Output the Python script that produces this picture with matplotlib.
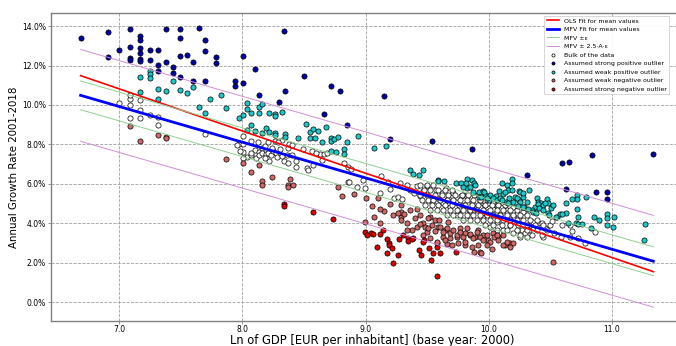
import matplotlib
matplotlib.use("Agg")
import matplotlib.pyplot as plt
import numpy as np

# ---------------- data (x = ln GDP, y = growth rate in %) ----------------
strong_pos = [(6.686, 13.40), (6.906, 13.71), (6.906, 12.44), (7.000, 12.78), (7.089, 13.87), (7.089, 12.94),
              (7.089, 12.40), (7.089, 12.28), (7.171, 13.52), (7.171, 13.30), (7.171, 12.89), (7.171, 12.62),
              (7.171, 12.35), (7.171, 12.22), (7.247, 12.78), (7.247, 12.30), (7.314, 12.78), (7.314, 12.02),
              (7.314, 11.73), (7.379, 13.87), (7.379, 12.20), (7.436, 11.93), (7.436, 11.62), (7.496, 13.84),
              (7.496, 13.40), (7.496, 12.50), (7.496, 11.42), (7.550, 12.54), (7.601, 12.20), (7.601, 11.22),
              (7.650, 13.91), (7.696, 13.28), (7.696, 12.73), (7.696, 11.23), (7.786, 12.42), (7.786, 12.15),
              (7.937, 11.23), (7.937, 10.98), (8.005, 12.49), (8.005, 11.10), (8.100, 11.83), (8.340, 13.74),
              (8.132, 10.52), (8.295, 10.14), (8.344, 10.71), (8.498, 11.46), (8.717, 10.98), (8.793, 10.73),
              (8.665, 9.56), (8.850, 8.97), (9.148, 10.47), (9.197, 8.27), (9.538, 8.19), (9.863, 7.75),
              (10.314, 6.43), (10.599, 7.06), (10.651, 7.09), (10.842, 7.46), (11.338, 7.51), (10.629, 5.72),
              (10.873, 5.58), (10.959, 5.60), (10.959, 5.21)]

weak_pos = [(7.171, 11.42), (7.247, 11.73), (7.247, 11.57), (7.247, 11.37), (7.314, 10.81), (7.314, 10.30),
            (7.379, 10.71), (7.436, 11.23), (7.496, 10.76), (7.550, 10.59), (7.601, 10.90), (7.650, 9.88),
            (7.696, 9.59), (7.739, 10.30), (7.824, 10.49), (7.864, 9.86), (7.970, 9.36), (8.005, 9.51),
            (8.040, 10.10), (8.040, 9.80), (8.040, 8.73), (7.171, 10.64), (8.070, 9.58), (8.132, 9.90),
            (8.132, 9.58), (8.159, 10.07), (8.216, 9.61), (8.267, 9.56), (8.267, 9.46), (8.319, 9.66),
            (8.070, 9.00), (8.100, 8.68), (8.159, 8.59), (8.189, 8.85), (8.218, 8.64), (8.267, 8.59),
            (8.262, 8.50), (8.344, 8.51), (8.344, 8.39), (8.454, 8.34), (8.514, 9.02), (8.552, 8.61),
            (8.552, 8.34), (8.576, 8.80), (8.614, 8.70), (8.592, 8.31), (8.647, 8.14), (8.682, 8.88),
            (8.717, 8.31), (8.717, 8.16), (8.747, 8.27), (8.779, 8.36), (8.717, 7.68), (8.763, 7.63),
            (8.823, 7.77), (8.823, 7.50), (8.852, 8.12), (8.937, 8.43), (9.071, 7.83), (9.169, 7.90),
            (9.359, 6.70), (9.388, 6.48), (9.437, 6.46), (9.587, 6.18), (9.638, 6.13), (9.735, 6.03),
            (9.773, 6.03), (9.827, 6.23), (9.863, 6.19), (9.881, 6.03), (9.822, 5.77), (9.876, 5.60),
            (9.924, 5.60), (9.952, 5.65), (9.973, 5.43), (9.920, 5.31), (10.006, 5.18), (10.109, 6.03),
            (10.147, 5.92), (10.193, 6.24), (10.160, 5.67), (10.188, 5.69), (10.247, 5.65), (10.326, 5.69),
            (10.084, 5.63), (10.114, 5.47), (10.214, 5.31), (10.249, 5.18), (10.282, 5.35), (10.290, 4.81),
            (10.141, 5.09), (10.058, 5.38), (9.892, 5.94), (9.849, 5.85), (9.941, 5.31), (9.465, 6.70),
            (9.591, 6.16), (9.790, 5.82), (9.818, 6.05), (9.960, 5.60), (10.011, 5.43), (9.984, 5.26),
            (10.038, 5.26), (10.066, 5.18), (10.092, 5.27), (10.106, 5.16), (10.133, 5.60), (10.188, 6.03),
            (10.168, 5.26), (10.200, 5.09), (10.228, 5.26), (10.255, 5.57), (10.282, 5.52), (10.255, 5.09),
            (10.310, 5.09), (10.391, 5.26), (10.404, 5.06), (10.423, 5.01), (10.377, 4.84), (10.350, 4.67),
            (10.444, 4.92), (10.472, 5.21), (10.485, 5.01), (10.505, 4.76), (10.526, 4.92), (10.558, 4.30),
            (10.580, 4.45), (10.629, 4.53), (10.629, 5.01), (10.485, 4.50), (10.363, 4.58), (10.160, 5.01),
            (10.241, 4.87), (10.277, 4.81), (10.318, 4.71), (10.399, 4.97), (10.412, 4.77), (10.439, 4.67),
            (10.385, 4.50), (10.458, 5.01), (10.491, 4.42), (10.548, 4.33), (10.716, 4.71), (10.726, 4.30),
            (10.645, 3.99), (10.710, 4.03), (10.729, 3.96), (10.759, 3.94), (10.832, 3.74), (10.859, 4.30),
            (10.959, 4.47), (10.959, 4.25), (10.964, 3.89), (11.008, 3.81), (11.021, 4.31), (11.273, 3.97),
            (11.260, 3.13), (10.716, 5.43), (10.716, 5.21), (10.680, 5.23), (10.791, 5.35), (10.899, 4.15),
            (10.594, 4.47)]

bulk = [(7.000, 10.12), (7.089, 10.32), (7.089, 10.00), (7.089, 9.32), (7.089, 10.50), (7.171, 10.24),
        (7.171, 9.75), (7.171, 9.32), (7.247, 9.49), (7.314, 9.41), (7.314, 9.00), (7.696, 8.53),
        (7.970, 8.01), (8.005, 8.41), (8.005, 8.01), (8.005, 7.63), (8.040, 7.38), (8.070, 8.19),
        (8.072, 7.46), (8.100, 7.73), (8.110, 7.31), (8.132, 7.60), (8.132, 7.46), (8.159, 7.83),
        (8.159, 7.58), (8.186, 7.92), (8.189, 7.50), (8.210, 7.58), (8.219, 7.17), (8.235, 7.48),
        (8.246, 7.66), (8.267, 8.19), (8.273, 7.55), (8.284, 7.38), (8.305, 7.75), (8.322, 8.22),
        (8.319, 7.41), (8.338, 7.17), (8.365, 7.46), (8.368, 7.07), (8.381, 8.02), (8.403, 7.98),
        (8.433, 7.14), (8.435, 6.84), (8.495, 7.75), (8.522, 6.79), (8.563, 7.68), (8.576, 6.97),
        (8.630, 7.50), (8.644, 7.21), (8.665, 7.50), (8.685, 7.55), (8.823, 7.04), (8.860, 6.87),
        (7.981, 7.65), (8.007, 7.29), (7.958, 7.97), (8.067, 7.55), (8.238, 7.80), (8.292, 8.14),
        (8.210, 8.14), (8.129, 8.14), (8.373, 7.80), (8.400, 7.46), (8.535, 6.70), (8.595, 7.55),
        (8.860, 6.08), (8.184, 7.29), (8.868, 6.11), (8.880, 6.75), (8.928, 5.85), (8.982, 6.19),
        (8.996, 5.77), (9.123, 6.40), (9.118, 5.52), (9.185, 6.11), (9.199, 5.72), (9.232, 5.26),
        (9.280, 6.06), (9.266, 5.35), (9.294, 5.21), (9.335, 5.94), (9.361, 5.69), (9.394, 5.55),
        (9.421, 5.89), (9.443, 5.38), (9.470, 5.65), (9.497, 5.89), (9.524, 5.35), (9.538, 5.01),
        (9.573, 5.69), (9.583, 5.26), (9.619, 5.55), (9.632, 5.01), (9.654, 5.80), (9.673, 5.26),
        (9.686, 4.81), (9.713, 5.52), (9.735, 5.09), (9.754, 4.67), (9.773, 5.38), (9.795, 5.45),
        (9.800, 4.92), (9.822, 5.31), (9.843, 4.67), (9.863, 5.04), (9.881, 5.43), (9.903, 4.81),
        (9.930, 5.13), (9.944, 4.50), (9.971, 4.92), (9.998, 5.05), (10.017, 4.63), (10.038, 5.09),
        (10.066, 4.84), (10.092, 4.42), (10.119, 5.01), (10.147, 4.67), (10.174, 4.25), (10.201, 4.81),
        (10.228, 4.50), (10.255, 4.16), (10.282, 4.55), (10.331, 3.65), (9.713, 5.01), (9.768, 4.76),
        (9.880, 4.69), (9.930, 4.84), (9.985, 4.58), (10.038, 4.71), (10.147, 4.50), (10.206, 4.27),
        (10.228, 3.99), (10.269, 3.65), (10.296, 3.49), (10.336, 3.91), (10.363, 4.08), (10.391, 3.82),
        (10.431, 3.99), (10.458, 3.74), (10.499, 3.91), (10.513, 4.13), (10.314, 3.28), (10.439, 3.28),
        (10.531, 3.49), (10.591, 3.28), (10.664, 3.91), (10.678, 3.59), (10.726, 3.25), (10.786, 3.01),
        (10.867, 3.54), (10.661, 3.28), (9.741, 4.42), (9.849, 4.33), (9.957, 4.25), (10.066, 4.08),
        (10.174, 3.91), (10.011, 3.82), (10.119, 3.65), (10.201, 3.49), (10.255, 3.31), (10.594, 3.92),
        (9.443, 5.94), (9.499, 5.96), (9.551, 5.92), (9.472, 5.70), (9.526, 5.67), (9.591, 5.71),
        (9.646, 5.68), (9.700, 5.70), (9.445, 5.44), (9.497, 5.42), (9.565, 5.45), (9.619, 5.41),
        (9.673, 5.44), (9.727, 5.42), (9.781, 5.45), (9.835, 5.41), (9.457, 5.18), (9.510, 5.20),
        (9.551, 5.16), (9.605, 5.19), (9.660, 5.17), (9.713, 5.20), (9.768, 5.16), (9.822, 5.19),
        (9.876, 5.17), (9.930, 5.20), (9.985, 5.16), (9.483, 4.92), (9.540, 4.94), (9.591, 4.90),
        (9.646, 4.93), (9.700, 4.91), (9.756, 4.94), (9.808, 4.90), (9.863, 4.93), (9.916, 4.91),
        (9.971, 4.94), (10.025, 4.90), (10.079, 4.93), (10.133, 4.91), (9.524, 4.67), (9.578, 4.69),
        (9.632, 4.65), (9.686, 4.68), (9.741, 4.66), (9.795, 4.69), (9.851, 4.65), (9.903, 4.68),
        (9.957, 4.66), (10.011, 4.69), (10.066, 4.65), (10.119, 4.68), (10.174, 4.66), (10.228, 4.69),
        (9.660, 4.42), (9.713, 4.44), (9.768, 4.40), (9.822, 4.43), (9.876, 4.41), (9.930, 4.44),
        (9.985, 4.40), (10.038, 4.43), (10.092, 4.41), (10.147, 4.44), (10.201, 4.40), (10.255, 4.43),
        (10.310, 4.41), (9.795, 4.16), (9.849, 4.18), (9.903, 4.14), (9.957, 4.17), (10.011, 4.15),
        (10.066, 4.18), (10.119, 4.14), (10.174, 4.17), (10.228, 4.15), (10.282, 4.18), (10.336, 4.14),
        (10.391, 4.17), (9.971, 3.91), (10.038, 3.93), (10.106, 3.89), (10.174, 3.92), (10.241, 3.90),
        (10.310, 3.93), (10.377, 3.89), (10.444, 3.92), (10.066, 3.65), (10.147, 3.67), (10.228, 3.63),
        (10.310, 3.66), (10.391, 3.64), (10.472, 3.67), (10.255, 3.40), (10.350, 3.42), (10.431, 3.38)]

weak_neg = [(7.089, 8.95), (7.171, 8.16), (7.314, 8.49), (7.379, 8.39), (7.379, 8.32), (7.864, 7.26),
            (8.005, 7.04), (8.135, 6.95), (8.072, 6.58), (8.162, 6.16), (8.162, 5.95), (8.243, 6.36),
            (8.389, 6.24), (8.368, 5.95), (8.368, 5.82), (8.411, 5.95), (8.779, 5.82), (8.809, 5.38),
            (8.907, 5.48), (9.004, 5.29), (9.099, 5.26), (9.286, 4.94), (9.361, 4.67), (9.416, 4.71),
            (9.443, 4.42), (9.402, 4.25), (9.286, 4.33), (9.286, 4.16), (9.340, 3.99), (9.375, 3.65),
            (9.421, 3.79), (9.470, 3.99), (9.497, 3.57), (9.524, 4.33), (9.565, 4.16), (9.591, 3.79),
            (9.646, 3.65), (9.673, 4.08), (9.632, 3.31), (9.686, 3.23), (9.741, 3.31), (9.768, 3.74),
            (9.808, 3.49), (9.849, 3.40), (9.889, 3.31), (9.916, 3.65), (9.957, 3.40), (9.998, 3.15),
            (10.038, 3.49), (10.079, 3.31), (10.119, 3.40), (10.133, 2.89), (10.174, 3.01), (10.201, 3.01),
            (9.578, 2.98), (9.808, 2.89), (9.884, 2.55), (9.930, 2.55), (10.025, 2.68), (8.998, 4.05),
            (9.069, 4.33), (9.118, 3.99), (9.335, 3.65), (9.660, 2.94), (9.938, 2.47), (10.521, 2.03),
            (9.483, 3.82), (9.510, 3.74), (9.538, 3.91), (9.568, 3.62), (9.605, 3.82), (9.632, 3.57),
            (9.660, 3.74), (9.686, 3.49), (9.713, 3.65), (9.741, 3.40), (9.771, 3.55), (9.795, 3.31),
            (9.822, 3.74), (9.852, 3.47), (9.876, 3.23), (9.903, 3.57), (9.930, 3.31), (9.957, 3.15),
            (9.988, 3.38), (10.011, 3.06), (10.041, 3.29), (10.079, 3.15), (10.119, 2.89), (10.147, 3.06),
            (10.174, 2.81), (9.470, 3.40), (9.524, 3.23), (9.581, 3.04), (9.646, 3.15), (9.700, 2.89),
            (9.754, 2.98), (9.808, 3.06), (9.863, 2.81), (9.916, 2.89), (9.985, 2.89), (10.066, 3.40),
            (9.446, 3.97), (9.510, 4.25), (9.594, 4.14), (9.290, 4.55), (9.310, 4.45), (9.260, 4.50),
            (9.150, 4.60), (9.120, 4.70), (9.200, 4.95), (9.220, 4.40), (9.050, 4.85)]

strong_neg = [(8.340, 4.96), (8.340, 4.86), (8.576, 4.57), (8.734, 4.23), (8.996, 3.54), (9.042, 3.49),
              (9.063, 3.47), (9.120, 3.47), (9.145, 3.65), (9.172, 3.20), (9.188, 3.01), (9.193, 2.88),
              (9.213, 2.73), (9.091, 2.81), (9.177, 2.47), (9.266, 2.39), (9.221, 1.96), (9.275, 3.18),
              (9.302, 3.40), (9.348, 3.23), (9.388, 3.23), (9.435, 2.64), (9.448, 2.39), (9.475, 3.15),
              (9.513, 2.76), (9.532, 2.13), (9.583, 2.81), (9.578, 1.32), (9.735, 2.55), (9.010, 3.40),
              (9.551, 2.47), (9.605, 2.47), (9.343, 3.10), (9.375, 3.20), (9.465, 3.05)]

# fitted lines: value at the smallest x and slope (% per unit of ln GDP)
x_range = [6.686, 11.338]
ols_start, ols_slope = 11.49, -2.139
mfv_start, mfv_slope = 10.49, -1.810
eps = 0.73
band = 2.33  # 2.5*A*eps

x_ticks = [7.0, 8.0, 9.0, 10.0, 11.0]
y_ticks = [0, 2, 4, 6, 8, 10, 12, 14]

# ---------------- figure ----------------
W, H = 676, 346
fig = plt.figure(figsize=(W / 100, H / 100), dpi=100)
ax_h = (321 - 12.7) / H
ax = fig.add_axes([50.7 / W, 25 / H, (693 - 50.7) / W, ax_h])

xl = np.array(x_range)
ols = ols_start + ols_slope * (xl - xl[0])
mfv = mfv_start + mfv_slope * (xl - xl[0])

ax.plot(xl, ols, color='#ff0000', lw=1.2, label='OLS Fit for mean values')
ax.plot(xl, mfv, color='#0000ff', lw=2.0, label='MFV Fit for mean values')
ax.plot(xl, mfv + eps, color='#90d090', lw=0.7, label='MFV \u00b1\u03b5')
ax.plot(xl, mfv - eps, color='#90d090', lw=0.7)
ax.plot(xl, mfv + band, color='#d08ed8', lw=0.7, label='MFV \u00b1 2.5\u00b7A\u00b7\u03b5')
ax.plot(xl, mfv - band, color='#d08ed8', lw=0.7)

def sc(data, fc, label):
    xs = [p[0] for p in data]
    ys = [p[1] for p in data]
    ax.scatter(xs, ys, s=14, facecolor=fc, edgecolor='black', linewidths=0.5, label=label)

sc(bulk, 'white', 'Bulk of the data')
sc(strong_pos, '#0000a8', 'Assumed strong positive outlier')
sc(weak_pos, '#1cc8c8', 'Assumed weak positive outlier')
sc(weak_neg, '#d06868', 'Assumed weak negative outlier')
sc(strong_neg, '#dd0000', 'Assumed strong negative outlier')

ax.set_xlim(6.443, 11.660)
ax.set_ylim(-0.964, 14.685)
ax.set_xticks(x_ticks)
ax.set_xticklabels(['%.1f' % v for v in x_ticks])
ax.set_yticks(y_ticks)
ax.set_yticklabels(['%.1f%%' % v for v in y_ticks])
ax.tick_params(labelsize=5.5, length=2, width=0.6, color='#888888', pad=1.5)
ax.tick_params(axis='x', pad=0.6)
ax.set_axisbelow(True)
ax.grid(True, linestyle='--', color='#a0a0a0', linewidth=0.6)
for s in ax.spines.values():
    s.set_color('#808080')
    s.set_linewidth(1.0)

ax.set_xlabel('Ln of GDP [EUR per inhabitant] (base year: 2000)', fontsize=8.3)
ax.xaxis.set_label_coords(0.5, (346 - 334 - 25) / (ax_h * H))
ax.set_ylabel('Annual Growth Rate 2001-2018', fontsize=7.4, labelpad=2)

leg = ax.legend(loc='upper left', bbox_to_anchor=(544 / W, 1 - 15.7 / H), bbox_transform=fig.transFigure,
                borderaxespad=0, fontsize=4.5, markerscale=0.6, fancybox=False, framealpha=0.9,
                edgecolor='#cccccc')
leg.get_frame().set_linewidth(0.6)

fig.savefig('out.png', dpi=100)
